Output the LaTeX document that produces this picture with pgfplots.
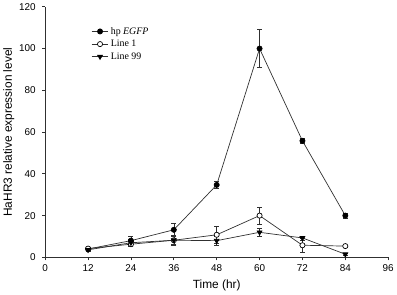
\documentclass[border=0pt]{standalone}
\usepackage{fontspec}
\setmainfont{Liberation Sans}
\newfontfamily\serifleg{Liberation Serif}
\usepackage{pgfplots}
\pgfplotsset{compat=1.18}
\definecolor{ln}{HTML}{303030}
\begin{document}
\begin{tikzpicture}
\begin{axis}[
  scale only axis,
  width=345bp, height=252bp,
  xmin=0, xmax=96, ymin=0, ymax=120,
  xtick={0,12,...,96}, ytick={0,20,...,120},
  axis lines*=left,
  axis line style={-, ln, line width=0.7pt},
  tick align=outside,
  tick style={ln, line width=0.7pt},
  major tick length=3bp,
  tick label style={font=\fontsize{10}{12}\selectfont},
  yticklabel style={xshift=-3bp},
  xticklabel style={yshift=-1bp},
  /pgf/number format/assume math mode=true,
  xlabel={Time (hr)},
  ylabel={HaHR3 relative expression level},
  label style={font=\fontsize{12}{14}\selectfont},
  xlabel style={yshift=-1bp},
  ylabel style={yshift=-2bp},
  legend style={draw=none, fill=none, at={(0.125,0.935)}, anchor=north west,
    font=\fontsize{10}{11}\selectfont\serifleg, row sep=0.5bp,
    legend cell align=left},
  error bars/error bar style={line width=0.6pt, ln},
  error bars/error mark options={rotate=90, mark size=2.5bp, line width=0.6pt, ln},
]
\addplot[ln, line width=0.7pt, mark=*, mark size=2.6bp, mark options={fill=black, draw=black},
  error bars/.cd, y dir=both, y explicit]
coordinates {
(12,4) +- (0,0.8)
(24,8) +- (0,2)
(36,13.2) +- (0,3.3)
(48,34.7) +- (0,1.5)
(60,100) +- (0,9)
(72,55.8) +- (0,1.2)
(84,20) +- (0,1.2)
};
\addlegendentry{hp \textit{EGFP}}
\addplot[ln, line width=0.7pt, mark=*, mark size=2.6bp, mark options={fill=white, draw=black},
  error bars/.cd, y dir=both, y explicit]
coordinates {
(12,4.2) +- (0,0.5)
(24,6.3) +- (0,1.2)
(36,8.2) +- (0,2)
(48,10.8) +- (0,4.3)
(60,20) +- (0,4)
(72,5.8) +- (0,3.4)
(84,5.4) +- (0,0.5)
};
\addlegendentry{Line 1}
\addplot[ln, line width=0.7pt, mark=triangle*, mark size=2.8bp, mark options={rotate=180, fill=black, draw=black},
  error bars/.cd, y dir=both, y explicit]
coordinates {
(12,3.6) +- (0,0.5)
(24,7) +- (0,1.5)
(36,8.2) +- (0,2.5)
(48,8) +- (0,2)
(60,12) +- (0,2)
(72,9.3) +- (0,1)
(84,1.5) +- (0,0.5)
};
\addlegendentry{Line 99}
\end{axis}
\end{tikzpicture}
\end{document}
